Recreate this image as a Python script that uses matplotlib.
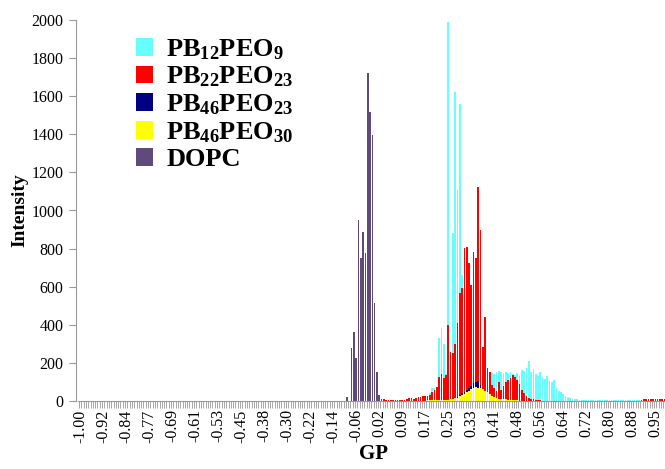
import matplotlib
matplotlib.use("Agg")
import matplotlib.pyplot as plt
import numpy as np

plt.rcParams['font.family'] = ['Liberation Serif', 'DejaVu Serif']
plt.rcParams['mathtext.fontset'] = 'custom'
plt.rcParams['mathtext.rm'] = 'Liberation Serif:bold'
plt.rcParams['mathtext.it'] = 'Liberation Serif:bold'
plt.rcParams['mathtext.bf'] = 'Liberation Serif:bold'
plt.rcParams['mathtext.default'] = 'rm'

# GP histogram bins: 256 bins of width 1/128 from -1
bin_w = 1 / 128
gp = -1 + np.arange(256) * bin_w

# each series: GP of first bin, then counts per bin (10 bins per row)
pb12_start = 0.140625
pb12 = [5, 6, 8, 10, 12, 15, 40, 70, 70, 75,
        330, 385, 300, 140, 1990, 240, 880, 1620, 1110, 1560,
        660, 420, 360, 300, 260, 220, 190, 170, 150, 140,
        135, 130, 125, 147, 140, 150, 160, 150, 148, 152,
        145, 150, 140, 135, 145, 130, 165, 160, 175, 212,
        150, 170, 140, 130, 150, 125, 115, 130, 105, 100,
        110, 70, 55, 45, 35, 25, 20, 15, 12, 10,
        8, 6, 6, 5, 5, 6, 5, 5, 4, 5,
        5, 6, 5, 5, 4, 5, 5, 5, 6, 5,
        4, 5, 5, 5, 5, 4, 5, 5, 5, 4,
        5, 5, 5, 5, 4, 5, 5, 5, 4, 5]

pb22_start = -0.078125
pb22 = [278, 12,
        12, 15, 14, 18, 16, 15, 14, 12, 16, 14,
        12, 10, 8, 5, 4, 3, 4, 3, 3, 4,
        3, 5, 8, 15, 15, 10, 18, 20, 22, 25,
        28, 25, 30, 45, 58, 75, 127, 140, 120, 135,
        399, 259, 252, 300, 409, 567, 592, 802, 810, 723,
        609, 784, 749, 1123, 898, 283, 442, 173, 154, 84,
        68, 50, 102, 60, 80, 102, 110, 120, 137, 125,
        110, 90, 60, 40, 25, 16, 10, 8, 5, 4,
        3, 2, 2, 2, 1, 1, 1, 1, 1, 1,
        1, 1, 1, 1, 1, 1, 1, 1, 1, 1,
        1, 1, 1, 1, 1, 1, 1, 1, 1, 1,
        1, 1, 1, 1, 1, 1, 1, 1, 1, 2,
        2, 2, 2, 2, 3, 8, 10, 12, 8, 10,
        12, 9, 11, 10, 12, 14]

pb46_23_start = 0.265625
pb46_23 = [10, 15, 22, 30, 40, 48, 58, 68, 80, 92,
           100, 105, 85, 62, 40, 25, 15, 8, 5]

pb46_30_start = 0.1796875
pb46_30 = [3, 4, 5, 5, 6, 5, 6, 5, 5, 6,
           8, 10, 14, 18, 24, 30, 38, 46, 55, 62,
           68, 72, 70, 68, 62, 55, 45, 35, 25, 20,
           15, 12, 10, 8, 8, 6, 6, 5, 5, 4]

dopc_start = -0.09375
dopc = [23, 0, 150, 364, 224, 950, 749, 889, 775, 1720,
        1519, 1396, 513, 154, 31]

series = [
    ('PB$_{12}$PEO$_{9}$', pb12_start, pb12, '#66FFFF'),
    ('PB$_{22}$PEO$_{23}$', pb22_start, pb22, '#FF0000'),
    ('PB$_{46}$PEO$_{23}$', pb46_23_start, pb46_23, '#000080'),
    ('PB$_{46}$PEO$_{30}$', pb46_30_start, pb46_30, '#FFFF00'),
    ('DOPC', dopc_start, dopc, '#604A7B'),
]

fig = plt.figure(figsize=(6.65, 4.69), dpi=100)
ax = fig.add_axes([79 / 665, 68 / 469, 589 / 665, 381 / 469])

handles = []
for name, start, counts, color in series:
    x = start + np.arange(len(counts)) * bin_w
    b = ax.bar(x, counts, width=0.72 * bin_w, color=color, label=name,
               linewidth=0)
    handles.append(b)

ax.set_xlim(gp[0] - bin_w / 2, gp[-1] + bin_w / 2)
ax.set_ylim(0, 2000)
ax.set_yticks(np.arange(0, 2001, 200))
ax.set_xticks(gp[::10])
ax.set_xticklabels([f'{v:.2f}' for v in gp[::10]], rotation=90)
ax.set_xticks(np.append(gp - bin_w / 2, gp[-1] + bin_w / 2), minor=True)

ax.tick_params(axis='x', which='major', length=0, pad=6, labelsize=11.5)
ax.tick_params(axis='x', which='minor', length=5, width=0.6, color='#999999')
ax.tick_params(axis='y', length=5, width=0.8, color='#999999', labelsize=11.5,
               pad=4)

for s in ['top', 'right']:
    ax.spines[s].set_visible(False)
for s in ['left', 'bottom']:
    ax.spines[s].set_color('#999999')
    ax.spines[s].set_linewidth(0.8)
# value axis sits a little left of the first category
ax.spines['left'].set_position(('outward', 2.2))
ax.spines['bottom'].set_bounds(gp[0] - bin_w, gp[-1] + bin_w / 2)

ax.set_xlabel('GP', fontsize=15, fontweight='bold', labelpad=1)
ax.set_ylabel('Intensity', fontsize=14, fontweight='bold', labelpad=2)

ax.legend(handles=handles, loc='upper left',
          bbox_to_anchor=(136 / 665, 1 - 37 / 469),
          bbox_transform=fig.transFigure, frameon=False,
          prop={'family': 'Liberation Serif', 'weight': 'bold', 'size': 19},
          handlelength=0.65, handleheight=0.65, handletextpad=0.5,
          labelspacing=0.12, borderpad=0, borderaxespad=0)

fig.savefig('out.png', dpi=100)
